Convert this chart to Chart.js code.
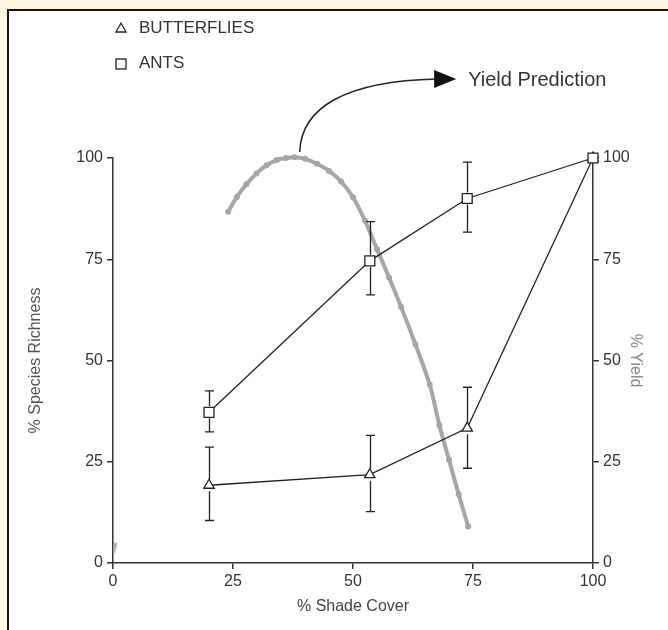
<!DOCTYPE html>
<html>
<head>
<meta charset="utf-8">
<script src="https://cdn.jsdelivr.net/npm/chart.js@4.4.0/dist/chart.umd.min.js"></script>
<style>
  html, body { margin: 0; padding: 0; background: #fff5e0; }
  .frame { position: absolute; left: 7px; top: 9px; right: 0; bottom: 0; background: #fff; border-left: 2px solid #111; border-top: 2px solid #111; }
  #chartShade { position: absolute; left: 0; top: 0; }
</style>
</head>
<body>
<div class="frame"></div>
<canvas id="chartShade" width="668" height="630"></canvas>
<script>
// % shade cover sampled for ants / butterflies
const shadeCover = [20, 53.5, 73.8, 100];

const antsRichness = [37.2, 74.6, 90, 100];
const antsLow = [32.4, 66.2, 81.7, null];
const antsHigh = [42.5, 84.3, 99, null];

const butterflyRichness = [19.2, 21.8, 33.3, 100];
const butterflyLow = [10.5, 12.7, 23.4, null];
const butterflyHigh = [28.6, 31.5, 43.4, null];

// yield prediction curve (right axis)
const yieldShade = [24, 25.8, 27.8, 29.9, 32, 34.1, 36, 37.8, 40, 42.5, 45, 47.5, 50, 52.5, 55, 57.5, 60, 63, 66, 68, 70, 72, 74];
const yieldPct = [86.7, 90.4, 93.5, 96.2, 98.2, 99.5, 100, 100.2, 99.8, 98.6, 96.8, 94.2, 90.3, 84.5, 77.5, 70.5, 63.3, 54, 44, 34, 25.5, 17, 9];
const yieldStubShade = [0.1, 0.6];
const yieldStubPct = [2.4, 5];

const tickStep = 25;
const axisTitles = { x: "% Shade Cover", y: "% Species Richness", y1: "% Yield" };

Chart.defaults.font.family = '"Liberation Sans", Arial, sans-serif';
Chart.defaults.color = "#333";

function pts(xs, ys) {
    return xs.map((v, i) => ({ x: v, y: ys[i] }));
}

const errorBars = {
    id: "errorBars",
    afterDatasetsDraw(chart) {
        const ctx = chart.ctx;
        const x = chart.scales.x, y = chart.scales.y;
        const sets = [[antsLow, antsHigh], [butterflyLow, butterflyHigh]];
        ctx.save();
        ctx.strokeStyle = "#222";
        ctx.lineWidth = 1.3;
        sets.forEach(([lo, hi], k) => {
            const vals = k === 0 ? antsRichness : butterflyRichness;
            shadeCover.forEach((s, i) => {
                if (lo[i] == null) return;
                const px = Math.round(x.getPixelForValue(s)) + 0.5;
                const pv = y.getPixelForValue(vals[i]);
                const pl = y.getPixelForValue(lo[i]);
                const ph = y.getPixelForValue(hi[i]);
                const gap = 6;
                ctx.beginPath();
                ctx.moveTo(px, ph); ctx.lineTo(px, pv - gap);
                ctx.moveTo(px, pv + gap); ctx.lineTo(px, pl);
                ctx.moveTo(px - 4.5, ph); ctx.lineTo(px + 4.5, ph);
                ctx.moveTo(px - 4.5, pl); ctx.lineTo(px + 4.5, pl);
                ctx.stroke();
            });
        });
        ctx.restore();
    }
};

const extras = {
    id: "extras",
    afterDraw(chart) {
        const ctx = chart.ctx;
        const x = chart.scales.x, y = chart.scales.y;
        const px = v => x.getPixelForValue(v), py = v => y.getPixelForValue(v);
        ctx.save();
        // legend
        const lx = chart.chartArea.left + 8;
        ctx.strokeStyle = "#222";
        ctx.lineWidth = 1.3;
        ctx.beginPath();
        ctx.moveTo(lx, 23); ctx.lineTo(lx + 5, 32); ctx.lineTo(lx - 5, 32); ctx.closePath();
        ctx.stroke();
        ctx.strokeRect(lx - 5, 59, 10, 10);
        ctx.fillStyle = "#333";
        ctx.font = '17px "Liberation Sans", Arial, sans-serif';
        ctx.textBaseline = "middle";
        ctx.fillText("BUTTERFLIES", lx + 18, 28);
        ctx.fillText("ANTS", lx + 18, 63);

        // yield prediction arrow
        ctx.strokeStyle = "#222";
        ctx.lineWidth = 1.5;
        ctx.beginPath();
        ctx.moveTo(px(38.9), py(101.5));
        ctx.bezierCurveTo(px(39.2), py(112.5), px(48.5), py(119), px(67.5), py(119.5));
        ctx.stroke();
        const tipX = px(71.5), tipY = py(119.5), baseX = px(66.9);
        ctx.fillStyle = "#111";
        ctx.beginPath();
        ctx.moveTo(tipX, tipY); ctx.lineTo(baseX, tipY - 9); ctx.lineTo(baseX, tipY + 9); ctx.closePath();
        ctx.fill();
        ctx.fillStyle = "#333";
        ctx.font = '20px "Liberation Sans", Arial, sans-serif';
        ctx.fillText("Yield Prediction", px(74), tipY + 1);
        ctx.restore();
    }
};

function axis(pos, width, title, titleColor, titlePad) {
    return {
        type: "linear",
        position: pos,
        min: 0,
        max: 100,
        ticks: { stepSize: tickStep, font: { size: 16 }, color: "#333", padding: 4 },
        grid: { drawOnChartArea: false, tickLength: 6, color: "#333", lineWidth: 1.5 },
        border: { color: "#333", width: 1.5 },
        title: { display: true, text: title, color: titleColor, font: { size: 16 }, padding: { top: titlePad, bottom: 0 } },
        afterFit: s => { s.width = width; }
    };
}

new Chart(document.getElementById("chartShade"), {
    type: "line",
    data: {
        datasets: [
            {
                label: "ANTS",
                data: pts(shadeCover, antsRichness),
                borderColor: "#222",
                borderWidth: 1.3,
                pointStyle: "rect",
                pointRadius: 7,
                pointBorderWidth: 1.3,
                pointBorderColor: "#222",
                pointBackgroundColor: "#fff",
                yAxisID: "y",
                clip: false
            },
            {
                label: "BUTTERFLIES",
                data: pts(shadeCover, butterflyRichness),
                borderColor: "#222",
                borderWidth: 1.3,
                pointStyle: "triangle",
                pointRadius: 6,
                pointBorderWidth: 1.3,
                pointBorderColor: "#222",
                pointBackgroundColor: "#fff",
                yAxisID: "y",
                clip: false
            },
            {
                label: "Yield Prediction",
                data: pts(yieldShade, yieldPct),
                borderColor: "#a6a6a6",
                borderWidth: 4,
                tension: 0.3,
                pointRadius: 3,
                pointBackgroundColor: "#a6a6a6",
                pointBorderWidth: 0,
                yAxisID: "y1",
                clip: false
            },
            {
                label: "stub",
                data: pts(yieldStubShade, yieldStubPct),
                borderColor: "#b0b0b0",
                borderWidth: 3,
                pointRadius: 0,
                yAxisID: "y1"
            }
        ]
    },
    options: {
        responsive: false,
        animation: false,
        layout: { padding: { top: 158, left: 0, right: 0, bottom: 0 } },
        plugins: { legend: { display: false }, tooltip: { enabled: false } },
        scales: {
            x: {
                type: "linear",
                min: 0,
                max: 100,
                ticks: { stepSize: tickStep, font: { size: 16 }, color: "#333", padding: 3 },
                grid: { drawOnChartArea: false, tickLength: 6, color: "#333", lineWidth: 1.5 },
                border: { color: "#333", width: 1.5 },
                title: { display: true, text: axisTitles.x, color: "#444", font: { size: 16 }, padding: { top: 0, bottom: 14 } },
                afterFit: s => { s.height = 67; }
            },
            y: axis("left", 113, axisTitles.y, "#555", 26),
            y1: axis("right", 75, axisTitles.y1, "#888", 23)
        }
    },
    plugins: [errorBars, extras]
});
</script>
</body>
</html>
